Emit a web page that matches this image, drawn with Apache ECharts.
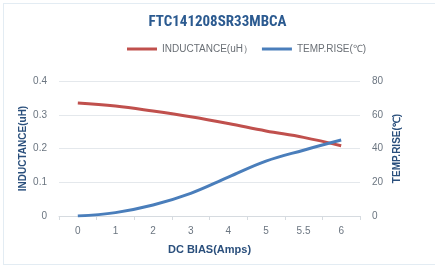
<!DOCTYPE html>
<html>
<head>
<meta charset="utf-8">
<script src="https://cdn.jsdelivr.net/npm/echarts@6/dist/echarts.min.js"></script>
<style>
  html, body { margin: 0; padding: 0; background: #fff; }
  #frame {
    position: absolute; left: 3px; top: 3px; width: 440px; height: 262px;
    border: 1px solid #e3ecf3; box-sizing: border-box;
  }
  #chart { width: 435px; height: 270px; position: relative; }
</style>
</head>
<body>
<div id="frame"></div>
<div id="chart"></div>
<script>
  const categories = ["0", "1", "2", "3", "4", "5", "5.5", "6"];
  const inductance = [0.335, 0.326, 0.311, 0.294, 0.274, 0.252, 0.233, 0.208];
  const tempRise = [0, 2, 6.5, 13.4, 23, 32.5, 39, 45];
  const leftTicks = [0, 0.1, 0.2, 0.3, 0.4];
  const rightTicks = [0, 20, 40, 60, 80];

  const labelColor = "#6b7580";
  const nameColor = "#2a4f7c";

  const myChart = echarts.init(document.getElementById("chart"));
  const option = {
    animation: false,
    title: {
      text: "FTC141208SR33MBCA",
      left: "center",
      top: 10,
      textStyle: {
        fontFamily: "Liberation Sans Narrow, Roboto Condensed, Liberation Sans",
        fontSize: 15,
        fontWeight: "bold",
        color: "#2b5a90",
      },
    },
    legend: {
      top: 39,
      left: 122,
      itemWidth: 30,
      itemHeight: 3,
      itemGap: 9,
      icon: "rect",
      textStyle: { color: "#6a6f75", fontSize: 10 },
      data: ["INDUCTANCE(uH）", "TEMP.RISE(℃)"],
    },
    grid: { left: 59, right: 75, top: 81, bottom: 54 },
    xAxis: {
      type: "category",
      data: categories,
      name: "DC BIAS(Amps)",
      nameLocation: "middle",
      nameGap: 28,
      nameMoveOverlap: false,
      nameTextStyle: { color: nameColor, fontWeight: "bold", fontSize: 11 },
      axisLine: { lineStyle: { color: "#d6dbe0" } },
      axisTick: { show: true, length: 4, lineStyle: { color: "#d6dbe0" } },
      axisLabel: { color: labelColor, fontSize: 10, margin: 10 },
    },
    yAxis: [
      {
        type: "value",
        min: 0,
        max: 0.4,
        interval: 0.1,
        name: "INDUCTANCE(uH)",
        nameLocation: "middle",
        nameGap: 31,
        nameMoveOverlap: false,
        nameTextStyle: { color: nameColor, fontWeight: "bold", fontSize: 10 },
        axisLine: { show: false },
        axisTick: { show: false },
        splitLine: { lineStyle: { color: "#e4e8ec" } },
        axisLabel: {
          color: labelColor,
          fontSize: 10,
          margin: 12,
          formatter: (v) => (leftTicks.includes(+v.toFixed(1)) ? (v === 0 ? "0" : v.toFixed(1)) : ""),
        },
      },
      {
        type: "value",
        min: 0,
        max: 80,
        interval: 20,
        name: "TEMP.RISE(℃)",
        nameLocation: "middle",
        nameGap: 32,
        nameMoveOverlap: false,
        nameTextStyle: { color: nameColor, fontWeight: "bold", fontSize: 10 },
        axisLine: { show: false },
        axisTick: { show: false },
        splitLine: { show: false },
        axisLabel: {
          color: labelColor,
          fontSize: 10,
          margin: 12,
          formatter: (v) => (rightTicks.includes(v) ? String(v) : ""),
        },
      },
    ],
    series: [
      {
        name: "INDUCTANCE(uH）",
        type: "line",
        smooth: 0.4,
        showSymbol: false,
        data: inductance,
        yAxisIndex: 0,
        itemStyle: { color: "#c0504d" },
        lineStyle: { width: 3, color: "#c0504d" },
      },
      {
        name: "TEMP.RISE(℃)",
        type: "line",
        smooth: 0.4,
        showSymbol: false,
        data: tempRise,
        yAxisIndex: 1,
        itemStyle: { color: "#4a7ebb" },
        lineStyle: { width: 3, color: "#4a7ebb" },
      },
    ],
  };
  myChart.setOption(option);
</script>
</body>
</html>
